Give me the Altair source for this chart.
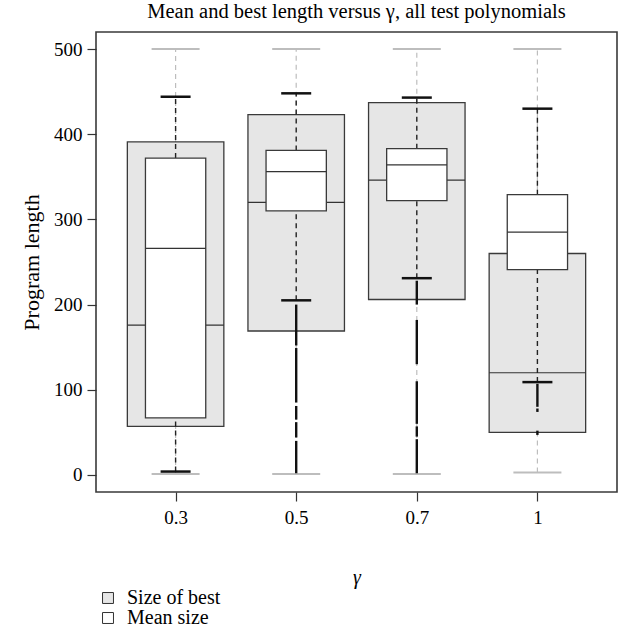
import altair as alt
import pandas as pd

gammas = ["0.3", "0.5", "0.7", "1"]

# Size of best (grey, wide boxes)
best_lo = [1, 1, 1, 3]
best_q1 = [57, 169, 206, 50]
best_med = [176, 320, 346, 120]
best_q3 = [391, 423, 437, 260]
best_hi = [500, 500, 500, 500]

# Mean size (white, narrow boxes)
mean_lo = [4, 205, 231, 109]
mean_q1 = [67, 310, 322, 241]
mean_med = [266, 356, 364, 285]
mean_q3 = [372, 381, 383, 329]
mean_hi = [444, 448, 443, 430]

# runs of dense outliers of the mean size (gamma, from, to)
out_gamma = ["0.5", "0.5", "0.5", "0.5", "0.5",
             "0.7", "0.7", "0.7", "0.7", "0.7",
             "1", "1", "1"]
out_from = [200, 149, 81, 62, 40,
            228, 182, 110, 57, 42,
            107, 78, 52]
out_to = [152, 85, 65, 44, 2,
          200, 130, 60, 45, 2,
          80, 74, 47]

series = ["Size of best", "Mean size"]

best = pd.DataFrame({"g": gammas, "lo": best_lo, "q1": best_q1, "med": best_med,
                     "q3": best_q3, "hi": best_hi, "s": series[0]})
mean = pd.DataFrame({"g": gammas, "lo": mean_lo, "q1": mean_q1, "med": mean_med,
                     "q3": mean_q3, "hi": mean_hi, "s": series[1]})
outl = pd.DataFrame({"g": out_gamma, "a": out_from, "b": out_to})

FONT = "Liberation Serif"
BOXW_BEST = 96.5
BOXW_MEAN = 60.3

xenc = alt.X("g:N", sort=gammas,
             scale=alt.Scale(type="point", padding=0.66),
             axis=alt.Axis(title="γ", labelAngle=0, titleFontStyle="italic",
                           labelPadding=7, titlePadding=40))
yscale = alt.Scale(domain=[-20, 520], nice=False, zero=False)
yenc_axis = alt.Axis(title="Program length", values=[0, 100, 200, 300, 400, 500],
                     labelPadding=5, titlePadding=10, titleFontSize=22)

fill_scale = alt.Scale(domain=series, range=["#e6e6e6", "#ffffff"])
legend = alt.Legend(title=None, orient="none", legendX=2, legendY=556,
                    symbolType="square", symbolSize=120, symbolStrokeColor="#333",
                    symbolStrokeWidth=1, labelFont=FONT, labelFontSize=20,
                    labelColor="black", rowPadding=0, labelOffset=9)

dash = [5, 4]

# best whiskers (grey dashed)
bw_up = alt.Chart(best).mark_rule(color="#bdbdbd", strokeDash=dash, strokeWidth=1.2).encode(
    x=xenc, y=alt.Y("q3:Q", scale=yscale, axis=yenc_axis), y2="hi:Q")
bw_dn = alt.Chart(best).mark_rule(color="#bdbdbd", strokeDash=dash, strokeWidth=1.2).encode(
    x=xenc, y=alt.Y("lo:Q", scale=yscale), y2="q1:Q")
bcap_hi = alt.Chart(best).mark_tick(color="#bdbdbd", size=48, thickness=2, opacity=1).encode(
    x=xenc, y=alt.Y("hi:Q", scale=yscale))
bcap_lo = alt.Chart(best).mark_tick(color="#bdbdbd", size=48, thickness=2, opacity=1).encode(
    x=xenc, y=alt.Y("lo:Q", scale=yscale))
bbox = alt.Chart(best).mark_bar(size=BOXW_BEST, stroke="#3a3a3a", strokeWidth=1.3).encode(
    x=xenc, y=alt.Y("q1:Q", scale=yscale), y2="q3:Q",
    fill=alt.Fill("s:N", scale=fill_scale, legend=legend))
bmed = alt.Chart(best).mark_tick(color="#333", size=BOXW_BEST, thickness=1.2, opacity=1).encode(
    x=xenc, y=alt.Y("med:Q", scale=yscale))

# mean whiskers (black dashed)
mw_up = alt.Chart(mean).mark_rule(color="#222", strokeDash=dash, strokeWidth=1.4).encode(
    x=xenc, y=alt.Y("q3:Q", scale=yscale), y2="hi:Q")
mw_dn = alt.Chart(mean).mark_rule(color="#222", strokeDash=dash, strokeWidth=1.4).encode(
    x=xenc, y=alt.Y("lo:Q", scale=yscale), y2="q1:Q")
outs = alt.Chart(outl).mark_rule(color="#111", strokeWidth=2.4).encode(
    x=xenc, y=alt.Y("a:Q", scale=yscale), y2="b:Q")
mcap_hi = alt.Chart(mean).mark_tick(color="#111", size=30, thickness=2.5, opacity=1).encode(
    x=xenc, y=alt.Y("hi:Q", scale=yscale))
mcap_lo = alt.Chart(mean).mark_tick(color="#111", size=30, thickness=2.5, opacity=1).encode(
    x=xenc, y=alt.Y("lo:Q", scale=yscale))
mbox = alt.Chart(mean).mark_bar(size=BOXW_MEAN, stroke="#3a3a3a", strokeWidth=1.3).encode(
    x=xenc, y=alt.Y("q1:Q", scale=yscale), y2="q3:Q",
    fill=alt.Fill("s:N", scale=fill_scale, legend=legend))
mmed = alt.Chart(mean).mark_tick(color="#333", size=BOXW_MEAN, thickness=1.2, opacity=1).encode(
    x=xenc, y=alt.Y("med:Q", scale=yscale))

title = "Mean and best length versus γ, all test polynomials"

chart = alt.layer(
    bw_up, bw_dn, bcap_hi, bcap_lo, bbox, bmed,
    mw_up, mw_dn, outs, mcap_hi, mcap_lo, mbox, mmed
).properties(
    width=521, height=460,
    background="white",
    title=alt.TitleParams(title, font=FONT, fontSize=20.5, fontWeight="normal",
                          color="black", anchor="middle", offset=10),
    autosize=alt.AutoSizeParams(type="none"),
    padding={"left": 96, "top": 32, "right": 1, "bottom": 144},
).configure_view(
    stroke="#3a3a3a", strokeWidth=1.6
).configure_axis(
    labelFont=FONT, labelFontSize=19, labelColor="black",
    titleFont=FONT, titleFontSize=20, titleFontWeight="normal", titleColor="black",
    tickSize=9, tickColor="#333", tickWidth=1.2, domain=False, grid=False
)

chart.save("out.html", embed_options={"renderer": "svg", "actions": False})
